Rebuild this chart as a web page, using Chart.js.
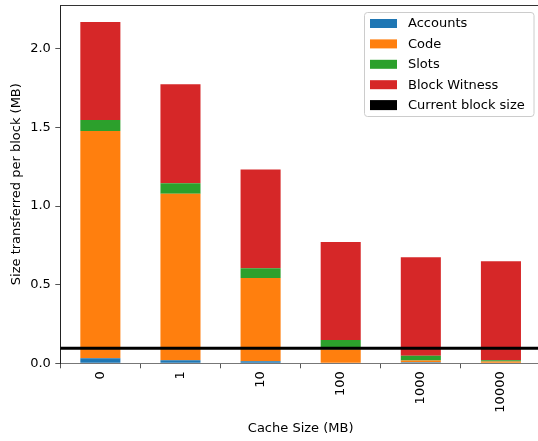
<!DOCTYPE html>
<html>
<head>
<meta charset="utf-8">
<script src="https://cdn.jsdelivr.net/npm/chart.js@4"></script>
<style>
  html, body { margin: 0; padding: 0; background: #fff; overflow: hidden; }
  #wrap { position: relative; width: 541px; height: 441px; }
</style>
</head>
<body>
<div id="wrap"><canvas id="c"></canvas></div>
<script>
// Cache size categories (MB)
const categories = ['0', '1', '10', '100', '1000', '10000'];

// Data transferred per block, broken down by component (MB)
const accounts     = [0.032, 0.019, 0.013, 0.003, 0.006, 0.004];
const code         = [1.446, 1.060, 0.530, 0.085, 0.012, 0.007];
const slots        = [0.070, 0.066, 0.061, 0.060, 0.030, 0.008];
const blockWitness = [0.623, 0.630, 0.628, 0.624, 0.626, 0.630];

// Reference level: size of a current block (MB)
const currentBlockSize = 0.095;

// Y axis
const yMax = 2.279;
const yTickStep = 0.5;

const FONT = 'DejaVu Sans';

const seriesLabels = ['Accounts', 'Code', 'Slots', 'Block Witness'];
const seriesValues = [accounts, code, slots, blockWitness];
const seriesColors = ['#1f77b4', '#ff7f0e', '#2ca02c', '#d62728'];

const barSets = seriesLabels.map((label, i) => ({
  type: 'bar',
  label,
  data: seriesValues[i],
  backgroundColor: seriesColors[i],
  borderWidth: 0,
  xAxisID: 'x',
  stack: 'parts',
  grouped: false,
  order: 1,
  barPercentage: 0.5,
  categoryPercentage: 1.0
}));

const lineSet = {
  type: 'line',
  label: 'Current block size',
  data: [{ x: -0.5, y: currentBlockSize }, { x: categories.length - 0.5, y: currentBlockSize }],
  borderColor: '#000',
  backgroundColor: '#000',
  borderWidth: 3,
  pointRadius: 0,
  xAxisID: 'xl',
  stack: 'ref',
  order: 0
};

// Frame line along the top of the plot area
const frameTop = {
  id: 'frameTop',
  afterDraw(chart) {
    const { ctx, chartArea } = chart;
    ctx.save();
    ctx.strokeStyle = '#333';
    ctx.lineWidth = 1;
    ctx.beginPath();
    ctx.moveTo(chartArea.left, chartArea.top + 0.5);
    ctx.lineTo(chartArea.right, chartArea.top + 0.5);
    ctx.stroke();
    ctx.restore();
  }
};

// Boxed legend in the upper right of the plot area
const boxLegend = {
  id: 'boxLegend',
  afterDraw(chart) {
    const { ctx } = chart;
    const x0 = 364.5, y0 = 12.5, w = 169.5, h = 104;
    const r = 3;
    ctx.save();
    ctx.beginPath();
    ctx.moveTo(x0 + r, y0);
    ctx.arcTo(x0 + w, y0, x0 + w, y0 + h, r);
    ctx.arcTo(x0 + w, y0 + h, x0, y0 + h, r);
    ctx.arcTo(x0, y0 + h, x0, y0, r);
    ctx.arcTo(x0, y0, x0 + w, y0, r);
    ctx.closePath();
    ctx.fillStyle = 'rgba(255,255,255,0.8)';
    ctx.fill();
    ctx.strokeStyle = '#cccccc';
    ctx.lineWidth = 1;
    ctx.stroke();

    const ds = chart.data.datasets;
    ctx.font = '13px "' + FONT + '"';
    ctx.textBaseline = 'middle';
    ctx.textAlign = 'left';
    ds.forEach((d, i) => {
      const cy = 23.5 + i * 20.4;
      const hgt = d.type === 'line' ? 10 : 9;
      ctx.fillStyle = d.type === 'line' ? d.borderColor : d.backgroundColor;
      ctx.fillRect(370, cy - hgt / 2, 27, hgt);
      ctx.fillStyle = '#000';
      ctx.fillText(d.label, 408, cy + 0.5);
    });
    ctx.restore();
  }
};

function noEdgePadding(scale) {
  scale.paddingTop = 0;
  scale.paddingBottom = 0;
  scale.paddingLeft = 0;
  scale.paddingRight = 0;
}

new Chart(document.getElementById('c'), {
  data: { labels: categories, datasets: [...barSets, lineSet] },
  options: {
    responsive: true,
    maintainAspectRatio: false,
    animation: false,
    layout: { padding: { top: 5, left: 0, right: 0, bottom: 0 } },
    plugins: { legend: { display: false }, tooltip: { enabled: false } },
    scales: {
      x: {
        type: 'category',
        stacked: true,
        offset: true,
        grid: { display: true, drawOnChartArea: false, tickLength: 5, tickColor: '#555', tickWidth: 1 },
        border: { display: true, color: '#777', width: 1 },
        ticks: {
          color: '#000',
          font: { family: FONT, size: 13 },
          maxRotation: 90, minRotation: 90,
          padding: 3,
          autoSkip: false
        },
        title: {
          display: true,
          text: 'Cache Size (MB)',
          color: '#000',
          font: { family: FONT, size: 13 },
          padding: { top: 0, bottom: 5 }
        },
        afterFit(scale) { scale.height = 77.7; noEdgePadding(scale); }
      },
      xl: {
        type: 'linear',
        display: false,
        min: -0.5,
        max: categories.length - 0.5
      },
      y: {
        type: 'linear',
        stacked: true,
        min: 0,
        max: yMax,
        grid: { display: true, drawOnChartArea: false, tickLength: 5, tickColor: '#555', tickWidth: 1 },
        border: { display: true, color: '#222', width: 1 },
        ticks: {
          stepSize: yTickStep,
          includeBounds: false,
          color: '#000',
          font: { family: FONT, size: 13 },
          padding: 4.5,
          callback: v => v.toFixed(1)
        },
        title: {
          display: true,
          text: 'Size transferred per block (MB)',
          color: '#000',
          font: { family: FONT, size: 13 },
          padding: { top: 9, bottom: 0 }
        },
        afterFit(scale) { scale.width = 60.3; noEdgePadding(scale); }
      }
    }
  },
  plugins: [frameTop, boxLegend]
});
</script>
</body>
</html>
